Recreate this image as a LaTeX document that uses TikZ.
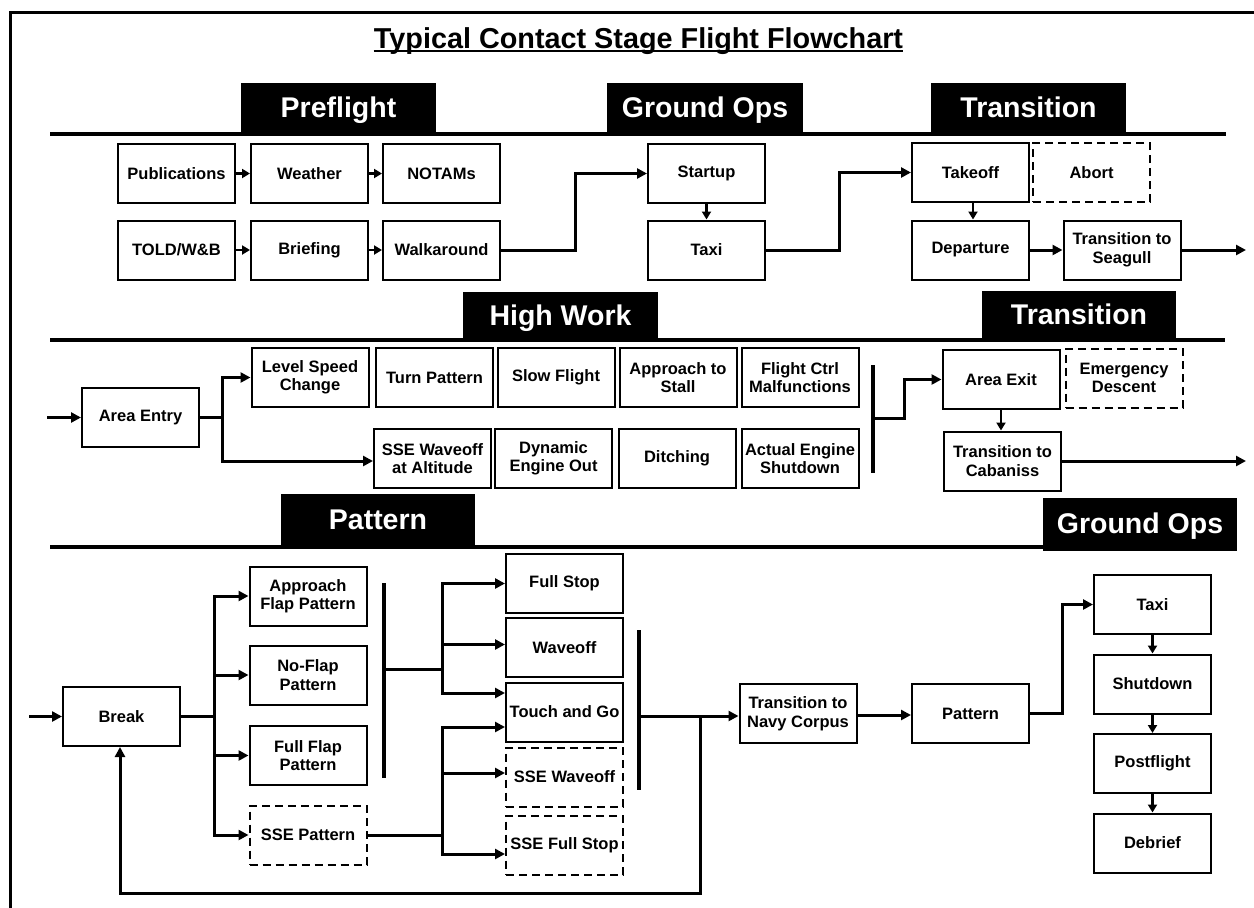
\documentclass[tikz,border=0pt]{standalone}
\usepackage{fontspec}
\setmainfont{Liberation Sans}
\usetikzlibrary{arrows.meta}

\begin{document}
\begin{tikzpicture}[x=1pt, y=-1pt,
  box/.style={draw, line width=2pt, minimum width=117pt, minimum height=59pt,
    inner sep=1pt, align=center, font=\fontsize{16.5}{18.5}\selectfont\bfseries},
  dbox/.style={box, dash pattern=on 8pt off 5pt},
  tab/.style={fill=black, text=white, inner sep=0pt, text height=20.4pt, text depth=2.4pt,
    font=\fontsize{28.5}{30}\selectfont\bfseries},
  rule/.style={line width=4.5pt},
  bar/.style={line width=4pt},
  link/.style={line width=3pt},
  conn/.style={line width=3pt, -{Triangle[length=10pt,width=10pt]}},
  short/.style={line width=2.5pt, -{Triangle[length=8pt,width=9pt]}}
]
\useasboundingbox (0,0) rectangle (1254,908);

% frame
\coordinate (frTR) at (1254,12);
\coordinate (frTL) at (10,12);
\coordinate (frBL) at (10,908);
\draw[line width=3pt] (frTR) -- (frTL) -- (frBL);

% title
\node[anchor=base, inner sep=0pt, font=\fontsize{28.8}{30}\selectfont\bfseries] (title) at (638.5,48)
  {Typical Contact Stage Flight Flowchart};
\draw[line width=1.6pt] ([yshift=-3.2pt]title.base west) -- ([yshift=-3.2pt]title.base east);

% ---------- section 1: preflight / ground ops / transition ----------
\coordinate (r1a) at (50,134);
\coordinate (r1b) at (1226,134);
\draw[rule] (r1a) -- (r1b);
\node[tab, minimum width=195pt, minimum height=51pt] (tPre) at (338.5,108.5) {Preflight};
\node[tab, minimum width=196pt, minimum height=51pt] (tGnd) at (705,108.5) {Ground Ops};
\node[tab, minimum width=195pt, minimum height=51pt] (tTrA) at (1028.5,108.5) {Transition};

\node[box] (pub) at (176.5,173.5) {Publications};
\node[box] (wea) at (309.5,173.5) {Weather};
\node[box] (notam) at (441.5,173.5) {NOTAMs};
\node[box] (told) at (176.5,250) {TOLD/W\&B};
\node[box] (brief) at (309.5,250) {Briefing};
\node[box] (walk) at (441.5,250) {Walkaround};
\node[box] (start) at (706.5,173.5) {Startup};
\node[box] (taxiA) at (706.5,250) {Taxi};
\node[box] (toff) at (970.5,172.5) {Takeoff};
\node[dbox] (abort) at (1091.5,172.5) {Abort};
\node[box] (dep) at (970.5,250) {Departure};
\node[box] (seag) at (1122,250) {Transition to\\Seagull};
\coordinate (out1) at (1246,250);

\draw[short] (pub.east) -- (wea.west);
\draw[short] (wea.east) -- (notam.west);
\draw[short] (told.east) -- (brief.west);
\draw[short] (brief.east) -- (walk.west);
\draw[conn] (walk.east) -- ++(74,0) |- (start.west);
\draw[short] (start.south) -- (taxiA.north);
\draw[conn] (taxiA.east) -- ++(73,0) |- (toff.west);
\draw[short] ([xshift=2.5pt]toff.south) -- ([xshift=2.5pt]dep.north);
\draw[conn] (dep.east) -- (seag.west);
\draw[conn] (seag.east) -- (out1);

% ---------- section 2: high work / transition ----------
\coordinate (r2a) at (50,340);
\coordinate (r2b) at (1225,340);
\draw[rule] (r2a) -- (r2b);
\node[tab, minimum width=195pt, minimum height=48pt] (tHW) at (560.5,316) {High Work};
\node[tab, minimum width=194pt, minimum height=49pt] (tTrB) at (1079,315.5) {Transition};

\node[box] (aent) at (140.5,417.5) {Area Entry};
\node[box] (lsc) at (310,377.5) {Level Speed\\Change};
\node[box] (turn) at (434.5,377.5) {Turn Pattern};
\node[box] (slow) at (556,377.5) {Slow Flight};
\node[box] (stall) at (678,377.5) {Approach to\\Stall};
\node[box] (fcm) at (800,377.5) {Flight Ctrl\\Malfunctions};
\node[box] (ssealt) at (432.5,458.5) {SSE Waveoff\\at Altitude};
\node[box] (deo) at (553.5,458.5) {Dynamic\\Engine Out};
\node[box] (ditch) at (677,458.5) {Ditching};
\node[box] (aes) at (800,458.5) {Actual Engine\\Shutdown};
\node[box] (aexit) at (1001,379.5) {Area Exit};
\node[dbox] (emd) at (1124,378) {Emergency\\Descent};
\node[box] (cab) at (1002.5,461) {Transition to\\Cabaniss};

\coordinate (in2) at (47,417.5);
\coordinate (j1) at (222,417.5);
\draw[conn] (in2) -- (aent.west);
\draw[link] (aent.east) -- (j1);
\draw[conn] (j1) |- (lsc.west);
\draw[conn] (j1) |- ([yshift=-2.5pt]ssealt.west);

\coordinate (b1t) at (873,365);
\coordinate (b1b) at (873,473);
\coordinate (b1m) at (873,418);
\draw[bar] (b1t) -- (b1b);
\draw[conn] (b1m) -- ++(31,0) |- (aexit.west);
\draw[short] (aexit.south) -- (aexit.south |- cab.north);
\coordinate (out2) at (1246,461);
\draw[conn] (cab.east) -- (out2);

% ---------- section 3: pattern / ground ops ----------
\coordinate (r3a) at (50,547);
\coordinate (r3b) at (1237,547);
\draw[rule] (r3a) -- (r3b);
\node[tab, minimum width=194pt, minimum height=53pt] (tPat) at (378,520.5) {Pattern};
\node[tab, minimum width=194pt, minimum height=53pt] (tGndB) at (1140,524.5) {Ground Ops};

\node[box] (brk) at (121.5,716.5) {Break};
\node[box] (apf) at (308,596) {Approach\\Flap Pattern};
\node[box] (nfp) at (308,675) {No-Flap\\Pattern};
\node[box] (ffp) at (308,755.5) {Full Flap\\Pattern};
\node[dbox] (ssep) at (308,835) {SSE Pattern};
\node[box] (fst) at (564.5,583.5) {Full Stop};
\node[box] (wvo) at (564.5,647.5) {Waveoff};
\node[box] (tgo) at (564.5,712) {Touch and Go};
\node[dbox] (sswo) at (564.5,777) {SSE Waveoff};
\node[dbox] (ssfs) at (564.5,845) {SSE Full Stop};
\node[box] (navy) at (798,713.5) {Transition to\\Navy Corpus};
\node[box] (pat) at (970.5,713.5) {Pattern};
\node[box] (taxiB) at (1152.5,604.5) {Taxi};
\node[box] (shut) at (1152.5,684) {Shutdown};
\node[box] (post) at (1152.5,763.5) {Postflight};
\node[box] (debr) at (1152.5,843) {Debrief};

\coordinate (in3) at (29,716.5);
\coordinate (j3) at (214,716.5);
\draw[conn] (in3) -- (brk.west);
\draw[link] (brk.east) -- (j3);
\draw[conn] (j3) |- (apf.west);
\draw[conn] (j3) |- (nfp.west);
\draw[conn] (j3) |- (ffp.west);
\draw[conn] (j3) |- (ssep.west);

\coordinate (b2t) at (384,583);
\coordinate (b2b) at (384,778);
\coordinate (b2m) at (384,669);
\coordinate (j4) at (442,669);
\draw[bar] (b2t) -- (b2b);
\draw[link] (b2m) -- (j4);
\draw[conn] (j4) |- (fst.west);
\draw[conn] (j4) |- ([yshift=3pt]wvo.west);
\draw[conn] (j4) |- ([yshift=19pt]tgo.west);

\coordinate (j5) at (442,835);
\draw[link] (ssep.east) -- (j5);
\draw[conn] (j5) |- ([yshift=-15pt]tgo.west);
\draw[conn] (j5) |- ([yshift=4pt]sswo.west);
\draw[conn] (j5) |- ([yshift=-9pt]ssfs.west);

\coordinate (b3t) at (639,630);
\coordinate (b3b) at (639,790);
\coordinate (b3m) at (639,716);
\coordinate (fb) at (700,716);
\draw[bar] (b3t) -- (b3b);
\draw[conn] (b3m) -- (navy.west |- b3m);
\draw[conn] (fb) -- ++(0,177) -| ([xshift=-1.5pt]brk.south);
\draw[conn] ([yshift=-1.5pt]navy.east) -- ([yshift=-1.5pt]pat.west);
\draw[conn] (pat.east) -- ++(32,0) |- (taxiB.west);
\draw[short] (taxiB.south) -- (shut.north);
\draw[short] (shut.south) -- (post.north);
\draw[short] (post.south) -- (debr.north);
\end{tikzpicture}
\end{document}
